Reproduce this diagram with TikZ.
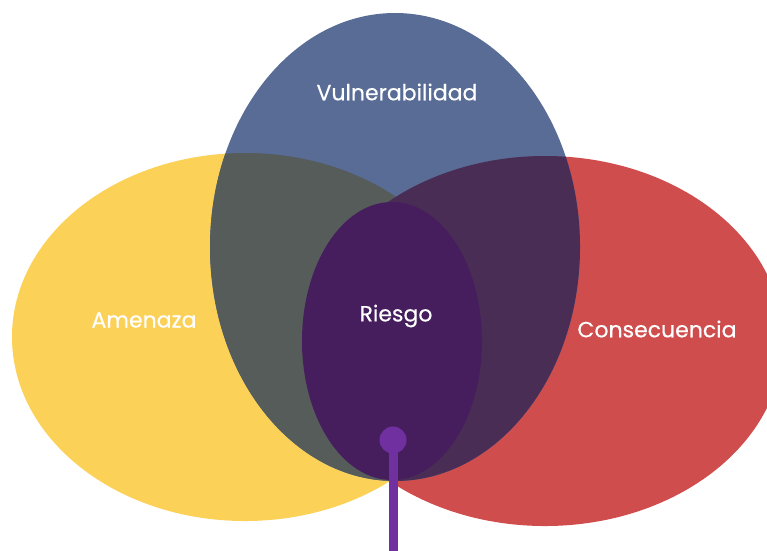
\documentclass[tikz,border=0pt]{standalone}
\usepackage{fontspec}
\setmainfont{Poppins}
\newfontfamily\lblfont{Poppins}[FakeBold=0.35]
\definecolor{cyellow}{HTML}{FBD157}
\definecolor{cred}{HTML}{D04D4D}
\definecolor{cblue}{HTML}{586C96}
\definecolor{cgray}{HTML}{565C5A}
\definecolor{cplum}{HTML}{4A2D55}
\definecolor{criesgo}{HTML}{461E5E}
\definecolor{cpin}{HTML}{7030A0}
\definecolor{cyr}{HTML}{C24B3A}
\tikzset{
  lbl/.style={text=white, font=\lblfont\fontsize{22}{26}\selectfont, inner sep=0pt},
}
\begin{document}
\begin{tikzpicture}[x=1pt,y=-1pt]
\clip (0,0) rectangle (767,550);
\fill[white] (0,0) rectangle (767,550);
% base sets
\fill[cyellow] (245,337) ellipse [x radius=233, y radius=184];
\fill[cred] (545,341) ellipse [x radius=238, y radius=185];
\begin{scope}
  \clip (245,337) ellipse [x radius=233, y radius=184];
  \fill[cyr] (545,341) ellipse [x radius=238, y radius=185];
\end{scope}
\fill[cblue] (395,247) ellipse [x radius=185, y radius=234];
\begin{scope}
  \clip (395,247) ellipse [x radius=185, y radius=234];
  \fill[cgray] (245,337) ellipse [x radius=233, y radius=184];
  \fill[cplum] (545,341) ellipse [x radius=238, y radius=185];
\end{scope}
\fill[criesgo] (392,341) ellipse [x radius=90, y radius=139];
% labels
\node[lbl] (vul) at (397,92) {Vulnerabilidad};
\node[lbl] (ame) at (144,320) {Amenaza};
\node[lbl] (rie) at (396,316) {Riesgo};
\node[lbl] (con) at (657,329) {Consecuencia};
% pin
\node[circle, fill=cpin, minimum size=27pt, inner sep=0pt] (pin) at (393,440) {};
\coordinate (pinend) at (393,552);
\draw[cpin, line width=9pt] (pin.center) -- (pinend);
\end{tikzpicture}
\end{document}
